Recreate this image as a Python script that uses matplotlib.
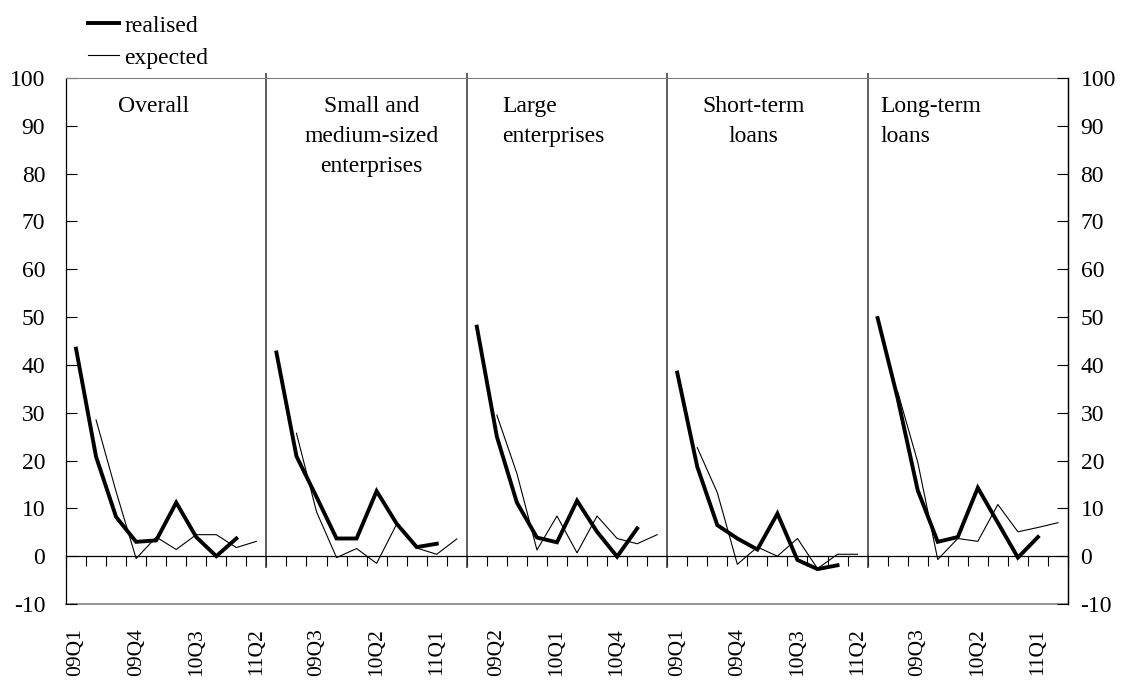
import numpy as np
import matplotlib
matplotlib.use('Agg')
import matplotlib.pyplot as plt

plt.rcParams['font.family'] = ['Liberation Serif', 'DejaVu Serif']
plt.rcParams['axes.unicode_minus'] = False

# quarters shown in every panel
quarters = ['09Q1', '09Q2', '09Q3', '09Q4', '10Q1', '10Q2', '10Q3', '10Q4', '11Q1', '11Q2']

panel_titles = ['Overall', 'Small and\nmedium-sized\nenterprises', 'Large\nenterprises',
                'Short-term\nloans', 'Long-term\nloans']

nan = np.nan

# realised (thick line), one list per panel
realised_overall = [43.4, 20.8, 8.2, 3.0, 3.3, 11.2, 4.0, 0.0, 3.7, nan]
realised_sme = [42.6, 20.9, 12.4, 3.7, 3.7, 13.6, 6.8, 1.9, 2.6, nan]
realised_large = [48.0, 25.0, 11.2, 3.9, 2.9, 11.6, 5.1, -0.1, 5.8, nan]
realised_short = [38.4, 18.7, 6.5, 3.7, 1.4, 8.9, -0.8, -2.7, -1.9, nan]
realised_long = [49.8, 33.0, 13.8, 3.0, 4.0, 14.3, 7.0, -0.3, 4.0, nan]

# expected (thin line)
expected_overall = [nan, 28.5, 13.5, -0.5, 4.0, 1.4, 4.5, 4.5, 1.8, 3.1]
expected_sme = [nan, 25.7, 9.3, -0.3, 1.6, -1.5, 6.7, 1.7, 0.4, 3.6]
expected_large = [nan, 29.5, 17.3, 1.3, 8.4, 0.7, 8.4, 3.7, 2.6, 4.5]
expected_short = [nan, 22.7, 13.3, -1.7, 1.9, 0.0, 3.7, -2.6, 0.4, 0.4]
expected_long = [nan, 34.4, 19.7, -0.7, 3.7, 3.1, 10.8, 5.1, 6.0, 7.0]

realised = [realised_overall, realised_sme, realised_large, realised_short, realised_long]
expected = [expected_overall, expected_sme, expected_large, expected_short, expected_long]

n_q = len(quarters)
n_p = len(panel_titles)
fs = 17

fig = plt.figure(figsize=(11.26, 6.8), dpi=100)
ax = fig.add_axes([66 / 1126, 1 - 604 / 680, (1068 - 66) / 1126, (604 - 78) / 680])

for p in range(n_p):
    x = np.arange(n_q) + p * n_q
    l1, = ax.plot(x, realised[p], color='black', lw=2.8, solid_joinstyle='miter')
    l2, = ax.plot(x, expected[p], color='black', lw=0.8)

ax.set_xlim(-0.5, n_p * n_q - 0.5)
ax.set_ylim(-10, 100)

# frame: black sides, grey top/bottom, zero line with ticks
ax.spines['bottom'].set_position(('data', 0))
ax.spines['bottom'].set_linewidth(0.9)
ax.spines['top'].set_color('#808080')
ax.spines['top'].set_linewidth(0.8)
ax.spines['left'].set_linewidth(0.9)
ax.spines['right'].set_linewidth(0.9)
ax.axhline(-10, color='#808080', lw=1.2, clip_on=False, zorder=0)

all_labels = quarters * n_p
ax.set_xticks(np.arange(0, n_p * n_q, 3))
ax.set_xticklabels(all_labels[::3], rotation=90, fontsize=15.5)
ax.set_xticks(np.arange(-0.5, n_p * n_q, 1), minor=True)
ax.tick_params(axis='x', which='major', length=0, pad=52)
ax.tick_params(axis='x', which='minor', direction='out', length=7, width=0.8)

ax.set_yticks(np.arange(-10, 101, 10))
ax.tick_params(axis='y', direction='in', length=8, width=0.8, labelsize=fs, pad=15)

ax2 = ax.twinx()
ax2.set_ylim(-10, 100)
ax2.set_yticks(np.arange(-10, 101, 10))
ax2.tick_params(axis='y', direction='in', length=8, width=0.8, labelsize=fs, pad=9)
for s in ['top', 'bottom', 'left']:
    ax2.spines[s].set_visible(False)
ax2.spines['right'].set_linewidth(0.9)

# panel separators
ax.vlines(np.arange(1, n_p) * n_q - 0.5, -2.5, 101, color='#333333', lw=1.1, clip_on=False)

# panel titles (x in axes fraction, alignment as in the original)
title_pos = [(0.087, 'center'), (0.305, 'center'), (0.435, 'left'), (0.686, 'center'), (0.813, 'left')]
for (tx, ha), t in zip(title_pos, panel_titles):
    ax.text(tx, 0.965, t, transform=ax.transAxes, ha=ha, va='top', fontsize=fs,
            linespacing=1.55, multialignment=ha)

fig.legend([l1, l2], ['realised', 'expected'], loc='upper left',
           bbox_to_anchor=(88 / 1126, 1 - 15 / 680), frameon=False, fontsize=fs,
           handlelength=1.3, handletextpad=0.25, labelspacing=0.45, borderpad=0,
           borderaxespad=0)

fig.savefig('out.png', dpi=100)
